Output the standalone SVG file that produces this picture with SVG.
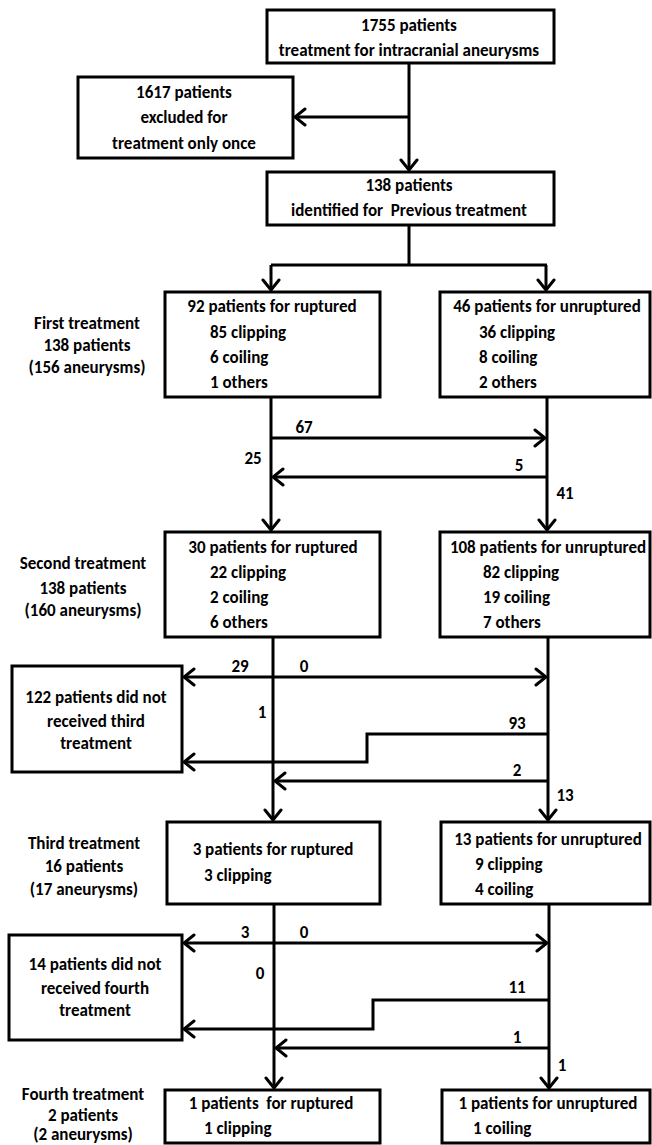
<svg xmlns="http://www.w3.org/2000/svg" width="652" height="1145" viewBox="0 0 652 1145">
<style>
text{font-family:"Carlito","Lato","Liberation Sans",sans-serif;font-weight:bold;font-size:17px;fill:#000;white-space:pre}
.m{text-anchor:middle}
.box{fill:#fff;stroke:#000;stroke-width:3}
.c{fill:none;stroke:#000;stroke-width:3}
</style>
<defs>
<marker id="ah" viewBox="-14 -10 16 20" refX="0" refY="0" markerWidth="16" markerHeight="20" markerUnits="userSpaceOnUse" orient="auto-start-reverse">
<path d="M-10,-8 L0,0 L-10,8" fill="none" stroke="#000" stroke-width="3" stroke-linecap="round"/>
</marker>
</defs>
<rect width="652" height="1145" fill="#fff"/>
<g id="connectors">
<path class="c" d="M409,63 V170" marker-end="url(#ah)"/>
<path class="c" d="M409,117 H295" marker-end="url(#ah)"/>
<path class="c" d="M409,225 V265 M271,265 H547"/>
<path class="c" d="M271,265 V290" marker-end="url(#ah)"/>
<path class="c" d="M546,265 V290" marker-end="url(#ah)"/>
<path class="c" d="M271,397 V530" marker-end="url(#ah)"/>
<path class="c" d="M547,397 V530" marker-end="url(#ah)"/>
<path class="c" d="M271,438 H545" marker-end="url(#ah)"/>
<path class="c" d="M547,477 H273" marker-end="url(#ah)"/>
<path class="c" d="M273,637 V820" marker-end="url(#ah)"/>
<path class="c" d="M548,637 V820" marker-end="url(#ah)"/>
<path class="c" d="M184,677 H546" marker-start="url(#ah)" marker-end="url(#ah)"/>
<path class="c" d="M548,734 H367 V762 H184" marker-end="url(#ah)"/>
<path class="c" d="M548,781 H275" marker-end="url(#ah)"/>
<path class="c" d="M274,904 V1088" marker-end="url(#ah)"/>
<path class="c" d="M549,904 V1088" marker-end="url(#ah)"/>
<path class="c" d="M184,943 H547" marker-start="url(#ah)" marker-end="url(#ah)"/>
<path class="c" d="M549,1000 H373 V1029 H184" marker-end="url(#ah)"/>
<path class="c" d="M549,1048 H276" marker-end="url(#ah)"/>
<text class="m" x="304" y="433">67</text>
<text class="m" x="253" y="464">25</text>
<text class="m" x="519" y="471">5</text>
<text class="m" x="565" y="499">41</text>
<text class="m" x="240" y="672">29</text>
<text class="m" x="304" y="672">0</text>
<text class="m" x="262" y="718">1</text>
<text class="m" x="517" y="729">93</text>
<text class="m" x="517" y="776">2</text>
<text class="m" x="565" y="801">13</text>
<text class="m" x="245" y="938">3</text>
<text class="m" x="304" y="938">0</text>
<text class="m" x="260" y="979">0</text>
<text class="m" x="517" y="993">11</text>
<text class="m" x="517" y="1043">1</text>
<text class="m" x="562" y="1071">1</text>
</g>
<g id="n-top">
<rect class="box" x="267" y="10" width="287" height="53"/>
<text class="m" x="409" y="31">1755 patients</text>
<text class="m" x="409" y="56">treatment for intracranial aneurysms</text>
</g>
<g id="n-excluded">
<rect class="box" x="78" y="77" width="215" height="81"/>
<text class="m" x="184" y="98">1617 patients</text>
<text class="m" x="184" y="123">excluded for</text>
<text class="m" x="184" y="149">treatment only once</text>
</g>
<g id="n-previous">
<rect class="box" x="267" y="172" width="287" height="53"/>
<text class="m" x="409" y="191">138 patients</text>
<text class="m" x="409" y="216">identified for  Previous treatment</text>
</g>
<g id="lbl-first">
<text class="m" x="87" y="329">First treatment</text>
<text class="m" x="87" y="351">138 patients</text>
<text class="m" x="87" y="373">(156 aneurysms)</text>
</g>
<g id="n-first-r">
<rect class="box" x="165" y="292" width="215" height="105"/>
<text class="m" x="272" y="312">92 patients for ruptured</text>
<text x="210" y="338">85 clipping</text>
<text x="210" y="363">6 coiling</text>
<text x="210" y="388">1 others</text>
</g>
<g id="n-first-u">
<rect class="box" x="440" y="292" width="210" height="105"/>
<text class="m" x="547" y="312">46 patients for unruptured</text>
<text x="479" y="338">36 clipping</text>
<text x="479" y="363">8 coiling</text>
<text x="479" y="388">2 others</text>
</g>
<g id="lbl-second">
<text class="m" x="83" y="569">Second treatment</text>
<text class="m" x="83" y="594">138 patients</text>
<text class="m" x="83" y="616">(160 aneurysms)</text>
</g>
<g id="n-second-r">
<rect class="box" x="165" y="532" width="215" height="105"/>
<text class="m" x="273" y="553">30 patients for ruptured</text>
<text x="210" y="578">22 clipping</text>
<text x="210" y="603">2 coiling</text>
<text x="210" y="628">6 others</text>
</g>
<g id="n-second-u">
<rect class="box" x="440" y="532" width="210" height="105"/>
<text class="m" x="548" y="553">108 patients for unruptured</text>
<text x="483" y="578">82 clipping</text>
<text x="483" y="603">19 coiling</text>
<text x="483" y="628">7 others</text>
</g>
<g id="n-no-third">
<rect class="box" x="12" y="666" width="170" height="106"/>
<text class="m" x="96" y="703">122 patients did not</text>
<text class="m" x="96" y="727">received third</text>
<text class="m" x="96" y="749">treatment</text>
</g>
<g id="lbl-third">
<text class="m" x="84" y="849">Third treatment</text>
<text class="m" x="84" y="872">16 patients</text>
<text class="m" x="84" y="895">(17 aneurysms)</text>
</g>
<g id="n-third-r">
<rect class="box" x="167" y="822" width="213" height="82"/>
<text class="m" x="273" y="855">3 patients for ruptured</text>
<text x="204" y="881">3 clipping</text>
</g>
<g id="n-third-u">
<rect class="box" x="441" y="822" width="209" height="82"/>
<text class="m" x="548" y="845">13 patients for unruptured</text>
<text x="475" y="870">9 clipping</text>
<text x="475" y="895">4 coiling</text>
</g>
<g id="n-no-fourth">
<rect class="box" x="9" y="935" width="173" height="105"/>
<text class="m" x="95" y="970">14 patients did not</text>
<text class="m" x="95" y="994">received fourth</text>
<text class="m" x="95" y="1016">treatment</text>
</g>
<g id="lbl-fourth">
<text class="m" x="83" y="1100">Fourth treatment</text>
<text class="m" x="83" y="1121">2 patients</text>
<text class="m" x="83" y="1140">(2 aneurysms)</text>
</g>
<g id="n-fourth-r">
<rect class="box" x="165" y="1090" width="215" height="53"/>
<text class="m" x="271" y="1109">1 patients  for ruptured</text>
<text x="204" y="1134">1 clipping</text>
</g>
<g id="n-fourth-u">
<rect class="box" x="442" y="1090" width="208" height="53"/>
<text class="m" x="548" y="1109">1 patients for unruptured</text>
<text x="473" y="1134">1 coiling</text>
</g>
</svg>
